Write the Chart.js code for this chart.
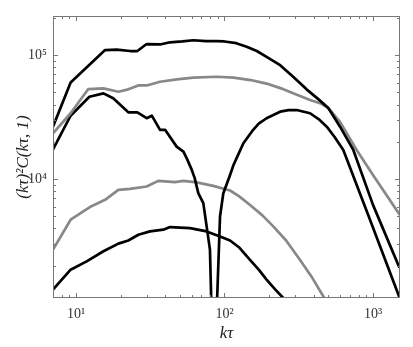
<!DOCTYPE html>
<html>
<head>
<meta charset="utf-8">
<script src="https://cdn.jsdelivr.net/npm/chart.js@4"></script>
<style>
html,body{margin:0;padding:0;background:#fff;}
#wrap{width:413px;height:347px;}
</style>
</head>
<body>
<div id="wrap"><canvas id="c" width="413" height="347"></canvas></div>
<script>
// x ticks & range
const xTickValues = [10, 100, 1000];
const yTickValues = [1e4, 1e5];
const xRange = [7, 1520];
const yRange = [1100, 2.07e5];

// Curve A (black, top)
const kA = [7, 9.2, 15.7, 18.8, 23.1, 25.9, 29.9, 36.8, 43, 52, 61.7, 75, 88.5, 100, 120, 141, 165, 192, 237, 290, 357, 430, 500, 600, 737, 1000, 1497];
const yA = [2.65e4, 6.03e4, 1.10e5, 1.11e5, 1.08e5, 1.08e5, 1.23e5, 1.22e5, 1.27e5, 1.29e5, 1.32e5, 1.30e5, 1.30e5, 1.29e5, 1.25e5, 1.17e5, 1.08e5, 9.7e4, 8.3e4, 6.7e4, 5.3e4, 4.4e4, 3.75e4, 2.65e4, 1.72e4, 6200, 1967];

// Curve B (gray, upper)
const kB = [7, 9.2, 12.1, 15.3, 19.3, 22.5, 26.3, 29.9, 36.8, 47.6, 61.7, 88.5, 115, 150, 192, 240, 290, 377, 450, 500, 600, 776, 1000, 1497];
const yB = [2.34e4, 3.4e4, 5.33e4, 5.4e4, 5.07e4, 5.3e4, 5.7e4, 5.7e4, 6.1e4, 6.38e4, 6.6e4, 6.7e4, 6.6e4, 6.3e4, 5.9e4, 5.4e4, 4.92e4, 4.35e4, 4.05e4, 3.75e4, 2.9e4, 1.72e4, 1.08e4, 5260];

// Curve C (black, with sign change near k~85)
const kC = [7, 9.2, 12.3, 15.3, 17.8, 22.5, 25.9, 29.9, 32.4, 36.8, 39.8, 47.6, 52.9, 56, 60, 63, 66.6, 72, 75.8, 79.8, 81.5, 85, 89, 93.3, 98.2, 109, 115, 125, 134, 156, 170, 192, 237, 270, 306, 377, 430, 488, 550, 631, 931, 1497];
const yC = [1.74e4, 3.25e4, 4.62e4, 4.92e4, 4.49e4, 3.46e4, 3.46e4, 3.1e4, 3.25e4, 2.5e4, 2.5e4, 1.83e4, 1.67e4, 1.45e4, 1.2e4, 1.02e4, 7710, 6410, 4160, 2700, 1000, 100, 1000, 5000, 7710, 1.08e4, 1.3e4, 1.62e4, 1.95e4, 2.5e4, 2.8e4, 3.1e4, 3.5e4, 3.6e4, 3.61e4, 3.4e4, 3.05e4, 2.65e4, 2.2e4, 1.72e4, 5090, 1135];

// Curve D (gray, lower)
const kD = [7, 9.2, 12.4, 15.7, 19.3, 23.1, 29.9, 35.8, 46.4, 52.9, 65, 84, 109, 125, 148, 180, 213, 260, 322, 390, 468];
const yD = [2700, 4710, 5960, 6810, 8200, 8360, 8720, 9680, 9460, 9680, 9420, 8830, 8100, 7300, 6210, 5100, 4160, 3200, 2240, 1600, 1110];

// Curve E (black, lowest)
const kE = [7, 9.2, 11.8, 15.3, 19.3, 22.5, 26.3, 31.5, 38.7, 43, 58.6, 75.8, 93.3, 109, 125, 148, 170, 192, 220, 247];
const yE = [1285, 1860, 2170, 2620, 3020, 3200, 3560, 3790, 3910, 4110, 4030, 3790, 3450, 3200, 2825, 2240, 1860, 1550, 1285, 1110];

const BLACK = '#000000';
const GRAY = '#888888';
const SERIF = '"Liberation Serif", "DejaVu Serif", serif';

function pts(k, y) { return k.map((v, i) => ({x: v, y: y[i]})); }
function ds(k, y, color) {
  return {data: pts(k, y), showLine: true, borderColor: color, borderWidth: 2.7,
          pointRadius: 0, fill: false, tension: 0, borderJoinStyle: 'round', borderCapStyle: 'round'};
}
const sup = {'0':'⁰','1':'¹','2':'²','3':'³','4':'⁴','5':'⁵','6':'⁶','7':'⁷','8':'⁸','9':'⁹'};
function powLabel(v) {
  const e = Math.round(Math.log10(v));
  return '10' + String(e).split('').map(c => sup[c]).join('');
}

const frameTicks = {
  id: 'frameTicks',
  afterDraw(chart) {
    const {ctx, chartArea: a, scales: {x, y}} = chart;
    ctx.save();
    ctx.strokeStyle = '#777777';
    ctx.lineWidth = 1;
    ctx.strokeRect(Math.round(a.left) + 0.5, Math.round(a.top) + 0.5, Math.round(a.right - a.left) - 1, Math.round(a.bottom - a.top) - 1);
    ctx.beginPath();
    const drawAxis = (scale, min, max, horiz) => {
      for (let e = Math.floor(Math.log10(min)); e <= Math.ceil(Math.log10(max)); e++) {
        for (let m = 1; m <= 9; m++) {
          const v = m * Math.pow(10, e);
          if (v < min || v > max) continue;
          const p = Math.round(scale.getPixelForValue(v)) + 0.5;
          const len = m === 1 ? 5 : 3;
          if (horiz) {
            ctx.moveTo(p, a.bottom); ctx.lineTo(p, a.bottom - len);
            ctx.moveTo(p, a.top); ctx.lineTo(p, a.top + len);
          } else {
            ctx.moveTo(a.left, p); ctx.lineTo(a.left + len, p);
            ctx.moveTo(a.right, p); ctx.lineTo(a.right - len, p);
          }
        }
      }
    };
    drawAxis(x, xRange[0], xRange[1], true);
    drawAxis(y, yRange[0], yRange[1], false);
    ctx.stroke();
    ctx.restore();
  }
};

new Chart(document.getElementById('c'), {
  type: 'scatter',
  data: {
    datasets: [
      ds(kA, yA, BLACK),
      ds(kB, yB, GRAY),
      ds(kC, yC, BLACK),
      ds(kD, yD, GRAY),
      ds(kE, yE, BLACK)
    ]
  },
  options: {
    responsive: false,
    devicePixelRatio: 1,
    animation: false,
    layout: {padding: {left: 0, right: 13, top: 16, bottom: 0}},
    plugins: {legend: {display: false}, tooltip: {enabled: false}},
    scales: {
      x: {
        type: 'logarithmic', min: xRange[0], max: xRange[1],
        afterBuildTicks: s => { s.ticks = xTickValues.map(v => ({value: v})); },
        afterFit: s => { s.height = 49; },
        grid: {display: false, drawTicks: false},
        border: {display: false},
        ticks: {autoSkip: false, maxRotation: 0, padding: 8, color: '#333',
                font: {family: SERIF, size: 14}, callback: v => powLabel(v)},
        title: {display: true, text: 'kτ', color: '#222',
                font: {family: SERIF, size: 17, style: 'italic'}, padding: {top: 0, bottom: 3}}
      },
      y: {
        type: 'logarithmic', min: yRange[0], max: yRange[1],
        afterBuildTicks: s => { s.ticks = yTickValues.map(v => ({value: v})); },
        afterFit: s => { s.width = 53; },
        grid: {display: false, drawTicks: false},
        border: {display: false},
        ticks: {autoSkip: false, padding: 6, color: '#333',
                font: {family: SERIF, size: 14}, callback: v => powLabel(v)},
        title: {display: true, text: '(kτ)²C(kτ, 1)', color: '#222',
                font: {family: SERIF, size: 17, style: 'italic'}, padding: {top: 13, bottom: 0}}
      }
    }
  },
  plugins: [frameTicks]
});
</script>
</body>
</html>
